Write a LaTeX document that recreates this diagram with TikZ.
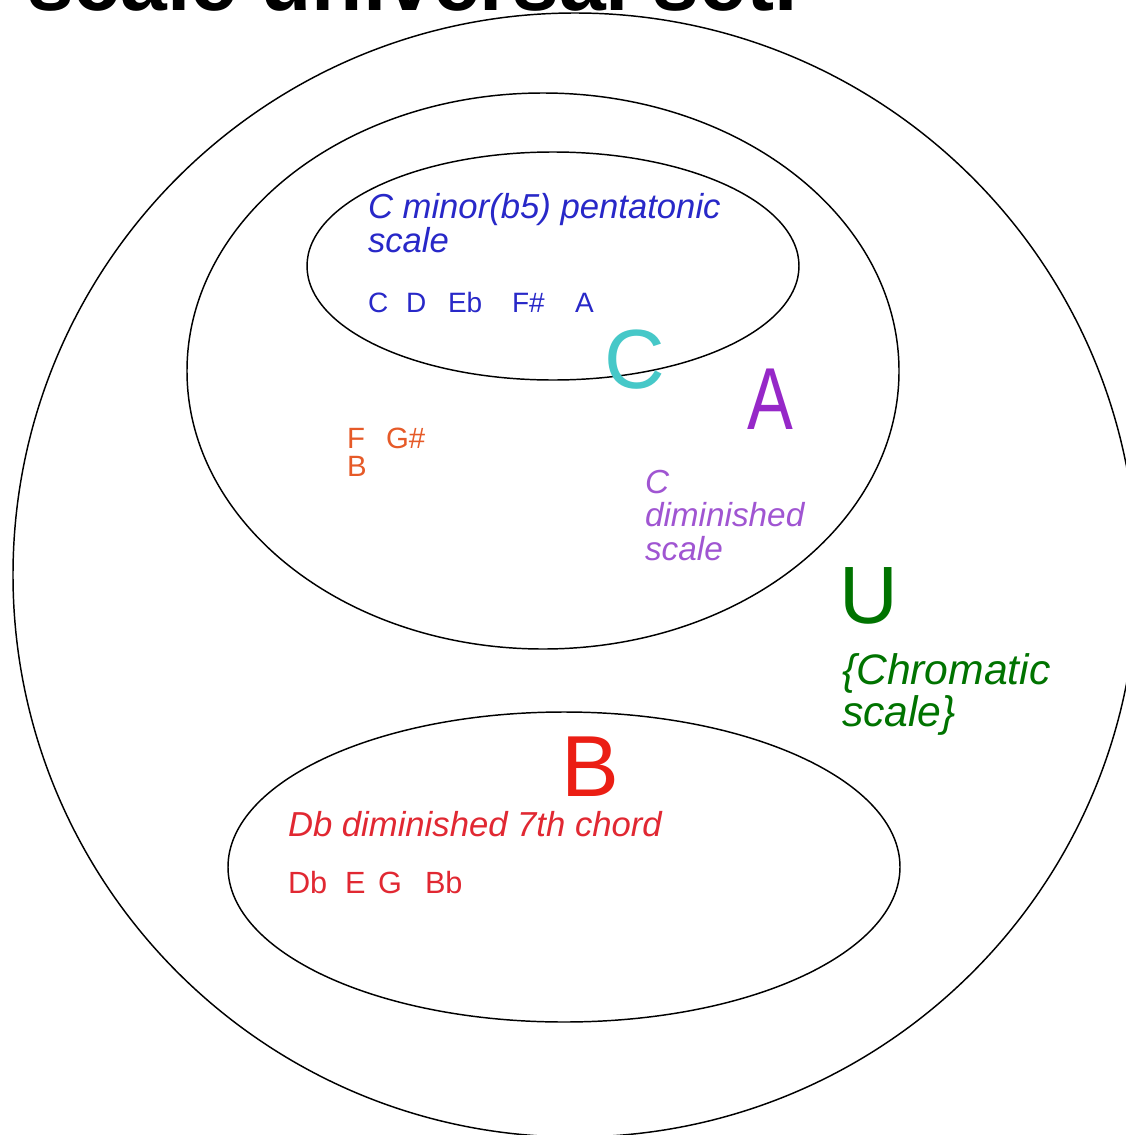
\documentclass[tikz,border=0pt]{standalone}
\usepackage{fontspec}
\setmainfont{Liberation Sans}
\definecolor{blueT}{RGB}{40,40,200}
\definecolor{cyanC}{RGB}{70,200,200}
\definecolor{purpA}{RGB}{150,40,200}
\definecolor{purpT}{RGB}{160,85,210}
\definecolor{orangeT}{RGB}{230,90,40}
\definecolor{greenU}{RGB}{0,115,0}
\definecolor{redB}{RGB}{235,30,20}
\definecolor{redT}{RGB}{225,40,50}
\tikzset{
  setline/.style={draw=black, line width=1.1pt},
  lbl/.style={anchor=base west, inner sep=0pt, outer sep=0pt},
}
\newcommand{\fs}[1]{\fontsize{#1}{#1}\selectfont}
\begin{document}
\begin{tikzpicture}[x=0.75pt,y=-0.75pt]
\useasboundingbox (0,0) rectangle (1126,1135);
\clip (0,0) rectangle (1126,1135);
\fill[white] (0,0) rectangle (1126,1135);
% title (cut off at the top)
\node[lbl] (title) at (27,10) {\fs{63pt}\bfseries scale universal set.};
% sets
\draw[setline] (575,575) circle [radius=421.5pt];
\draw[setline] (543,371) ellipse [x radius=267pt, y radius=208.5pt];
\draw[setline] (553,266) ellipse [x radius=184.5pt, y radius=85.5pt];
\draw[setline] (564,867) ellipse [x radius=252pt, y radius=116.25pt];
% set C
\node[lbl, text=blueT] (ct1) at (368,218) {\fs{26pt}\itshape C minor(b5) pentatonic};
\node[lbl, text=blueT] (ct2) at (368,252) {\fs{26pt}\itshape scale};
\node[lbl, text=blueT] (n1) at (368,312) {\fs{21pt}C};
\node[lbl, text=blueT] (n2) at (406,312) {\fs{21pt}D};
\node[lbl, text=blueT] (n3) at (448,312) {\fs{21pt}Eb};
\node[lbl, text=blueT] (n4) at (512,312) {\fs{21pt}F\#};
\node[lbl, text=blueT] (n5) at (575,312) {\fs{21pt}A};
\node[lbl, text=cyanC] (bigC) at (604,388) {\fs{63pt}C};
% set A
\node[lbl, text=purpA, xscale=0.78] (bigA) at (747,429) {\fs{66pt}A};
\node[lbl, text=orangeT] (o1) at (347,448) {\fs{22pt}F};
\node[lbl, text=orangeT] (o2) at (386,448) {\fs{22pt}G\#};
\node[lbl, text=orangeT] (o3) at (347,476) {\fs{22pt}B};
\node[lbl, text=purpT] (at1) at (645,493) {\fs{25pt}\itshape C};
\node[lbl, text=purpT] (at2) at (645,526) {\fs{25pt}\itshape diminished};
\node[lbl, text=purpT] (at3) at (645,560) {\fs{25pt}\itshape scale};
% universal set
\node[lbl, text=greenU] (bigU) at (839,623) {\fs{61pt}U};
\node[lbl, text=greenU] (ut1) at (842,684) {\fs{32pt}\itshape\{Chromatic};
\node[lbl, text=greenU] (ut2) at (842,726) {\fs{32pt}\itshape scale\}};
% set B
\node[lbl, text=redB] (bigB) at (561,796) {\fs{65pt}B};
\node[lbl, text=redT] (bt1) at (288,836) {\fs{26pt}\itshape Db diminished 7th chord};
\node[lbl, text=redT] (m1) at (288,893) {\fs{23pt}Db};
\node[lbl, text=redT] (m2) at (345,893) {\fs{23pt}E};
\node[lbl, text=redT] (m3) at (378,893) {\fs{23pt}G};
\node[lbl, text=redT] (m4) at (425,893) {\fs{23pt}Bb};
\end{tikzpicture}
\end{document}
